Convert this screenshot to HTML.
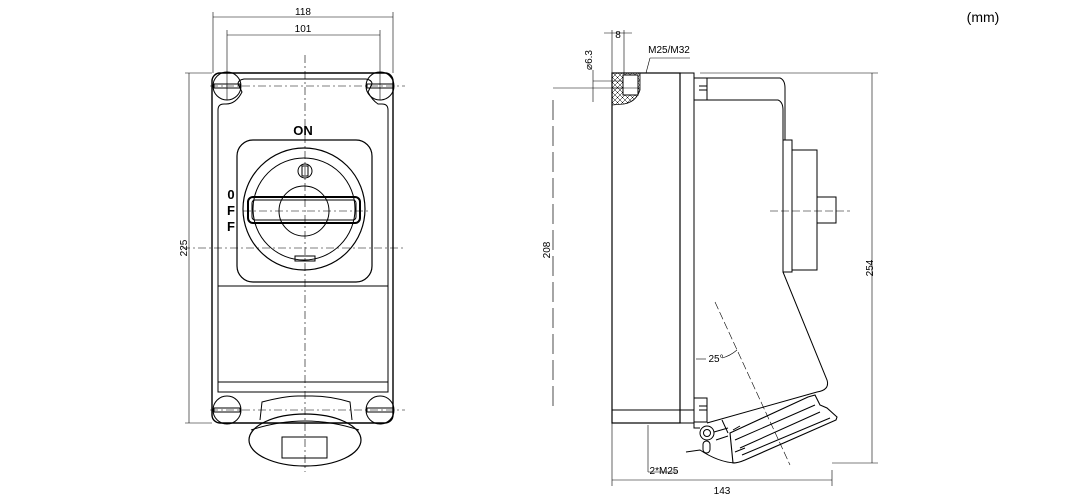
<!DOCTYPE html>
<html><head><meta charset="utf-8"><style>
html,body{margin:0;padding:0;background:#fff;width:1083px;height:500px;overflow:hidden}
svg{display:block}
text{font-family:"Liberation Sans",sans-serif;fill:#000}
.c{font-family:"Liberation Sans Narrow","Liberation Sans",sans-serif;font-size:10px}
</style></head><body>
<svg width="1083" height="500" viewBox="0 0 1083 500" fill="none" stroke="#000" stroke-width="1">
<defs>
<pattern id="h" width="5" height="5" patternUnits="userSpaceOnUse">
<path d="M0 0 L5 5 M5 0 L0 5" stroke="#000" stroke-width="0.5"/>
</pattern>
</defs>
<!-- FRONT VIEW -->
<g stroke-width="0.6">
<line x1="213" y1="17" x2="393" y2="17"/><line x1="227" y1="35" x2="380" y2="35"/>
<line x1="213" y1="12" x2="213" y2="73"/><line x1="393" y1="12" x2="393" y2="73"/>
<line x1="227" y1="30" x2="227" y2="100"/><line x1="380" y1="30" x2="380" y2="100"/>
<line x1="189" y1="73" x2="189" y2="423"/>
<line x1="185" y1="73" x2="212" y2="73"/><line x1="185" y1="423" x2="212" y2="423"/>
</g>
<text class="c" x="303" y="15" text-anchor="middle" stroke="none">118</text>
<text class="c" x="303" y="32" text-anchor="middle" stroke="none">101</text>
<text class="c" x="0" y="0" text-anchor="middle" stroke="none" transform="translate(187,248) rotate(-90)">225</text>
<rect x="212" y="73" width="181" height="350" rx="8" stroke-width="1.4"/>
<path d="M218 110 L218 392 L388 392 L388 110 Q388 104 382 104 L378 104 Q372 100 368 92 L372 84 Q372 80 366 79 L244 79 Q238 80 238 84 L242 92 Q236 104 226 104 L224 104 Q218 104 218 110Z"/>
<line x1="218" y1="286" x2="388" y2="286"/><line x1="218" y1="382" x2="388" y2="382"/>
<g>
<circle cx="227" cy="86" r="14"/><circle cx="380" cy="86" r="14"/>
<circle cx="227" cy="410" r="14"/><circle cx="380" cy="410" r="14"/>
<rect x="214" y="84" width="26" height="4"/><rect x="367" y="84" width="26" height="4"/>
<rect x="214" y="408" width="26" height="4"/><rect x="367" y="408" width="26" height="4"/>
</g>
<rect x="237" y="140" width="135" height="142" rx="16" stroke-width="1.2"/>
<circle cx="304" cy="209" r="61" stroke-width="1.2"/>
<circle cx="304" cy="209" r="51"/>
<circle cx="304" cy="211" r="25"/>
<circle cx="305" cy="171" r="7"/><rect x="302" y="166" width="6" height="10"/>
<rect x="248" y="197" width="112" height="26" rx="5" stroke-width="2"/>
<rect x="252" y="200" width="104" height="20" rx="3"/>
<rect x="295" y="256" width="20" height="5"/>
<text x="303" y="135" text-anchor="middle" font-size="13" font-weight="bold" stroke="none">ON</text>
<text x="231" y="199" text-anchor="middle" font-size="13" font-weight="bold" stroke="none">0</text>
<text x="231" y="215" text-anchor="middle" font-size="13" font-weight="bold" stroke="none">F</text>
<text x="231" y="231" text-anchor="middle" font-size="13" font-weight="bold" stroke="none">F</text>
<path d="M260 420 L262 402 Q285 396 298 396 L312 396 Q330 396 350 402 L352 420"/>
<ellipse cx="305" cy="440" rx="56" ry="26" stroke-width="1.2"/>
<path d="M251 430 Q305 412 359 430"/>
<rect x="282" y="437" width="45" height="21"/>
<g stroke-width="0.6" stroke-dasharray="8 3 2 3">
<line x1="305" y1="55" x2="305" y2="472"/>
<line x1="182" y1="248" x2="405" y2="248"/>
<line x1="243" y1="211" x2="370" y2="211"/>
<line x1="210" y1="86" x2="405" y2="86"/><line x1="210" y1="410" x2="405" y2="410"/>
</g>
<!-- SIDE VIEW -->
<g stroke-width="0.6">
<line x1="604" y1="33" x2="632" y2="33"/>
<line x1="612" y1="30" x2="612" y2="73"/><line x1="624" y1="30" x2="624" y2="88"/>
<line x1="593" y1="81" x2="640" y2="81"/><line x1="553" y1="88" x2="640" y2="88"/>
<line x1="593" y1="70" x2="593" y2="102"/>
<line x1="646" y1="73" x2="650" y2="58"/><line x1="650" y1="58" x2="690" y2="58"/>
<line x1="700" y1="73" x2="878" y2="73"/>
<line x1="872" y1="73" x2="872" y2="463"/><line x1="832" y1="463" x2="878" y2="463"/>
<line x1="612" y1="423" x2="612" y2="486"/><line x1="612" y1="480" x2="832" y2="480"/>
<line x1="832" y1="470" x2="832" y2="486"/>
<line x1="648" y1="425" x2="648" y2="472"/><line x1="648" y1="472" x2="677" y2="472"/>
<line x1="696" y1="359" x2="706" y2="359"/>
<path d="M722 358 Q730 356 737 350"/>
</g>
<g stroke-width="0.7" stroke-dasharray="20 6"><line x1="553" y1="100" x2="553" y2="410"/></g>
<text class="c" x="618" y="38" text-anchor="middle" stroke="none">8</text>
<text class="c" x="669" y="53" text-anchor="middle" stroke="none">M25/M32</text>
<text class="c" x="0" y="0" text-anchor="middle" stroke="none" transform="translate(592,60) rotate(-90)">⌀6.3</text>
<text class="c" x="0" y="0" text-anchor="middle" stroke="none" transform="translate(550,250) rotate(-90)">208</text>
<text class="c" x="0" y="0" text-anchor="middle" stroke="none" transform="translate(873,268) rotate(-90)">254</text>
<text class="c" x="722" y="494" text-anchor="middle" stroke="none">143</text>
<text class="c" x="664" y="474" text-anchor="middle" stroke="none">2*M25</text>
<text class="c" x="716" y="362" text-anchor="middle" stroke="none">25°</text>
<text x="983" y="22" text-anchor="middle" font-size="14" stroke="none">(mm)</text>
<!-- box -->
<rect x="612" y="73" width="68" height="350" stroke-width="1.2"/>
<line x1="612" y1="410" x2="694" y2="410"/>
<rect x="680" y="73" width="14" height="350"/>
<path d="M612 73 L640 73 L640 90 Q636 102 624 104 L612 105Z" fill="url(#h)" stroke-width="0.8"/>
<rect x="623" y="75" width="15" height="20" fill="#fff"/>
<line x1="612" y1="88" x2="640" y2="88" stroke-width="0.6"/>
<!-- lid -->
<path d="M694 78 L780 78 Q785 80 785 88 L785 140"/>
<path d="M694 100 L778 100 Q783 102 783 110 L783 272 L827 380 Q830 390 817 392 L707 423"/>
<path d="M694 78 L707 78 L707 100 L694 100 M694 398 L707 398 L707 422 L694 422"/>
<path d="M699 86 l8 0 m-8 4 l8 0 M699 406 l8 0 m-8 4 l8 0"/>
<rect x="783" y="140" width="9" height="132"/>
<rect x="792" y="150" width="25" height="120"/>
<rect x="817" y="197" width="19" height="26"/>
<g stroke-width="0.6" stroke-dasharray="8 3"><line x1="770" y1="211" x2="850" y2="211"/><line x1="715" y1="302" x2="790" y2="465"/></g>
<!-- socket -->
<path d="M730 433 L808 397 L815 395 L820 405 L827 408 L837 417 L836 420 L745 460 Q738 463 733 463 L730 433Z" stroke-width="1.1"/>
<path d="M735 440 L815 405 M740 448 L820 412 M742 455 L830 418 M735 452 L745 448"/>
<path d="M728 433 L722 420 M733 430 L740 426"/>
<circle cx="707" cy="433" r="7"/><circle cx="707" cy="433" r="3.5"/>
<rect x="703" y="441" width="7" height="12" rx="3.5"/>
<path d="M694 422 L694 428 L700 428"/>
<path d="M686 452 L700 450 Q718 462 735 463"/>
<path d="M714 432 L728 428 M716 440 L728 436"/>
</svg>
</body></html>
